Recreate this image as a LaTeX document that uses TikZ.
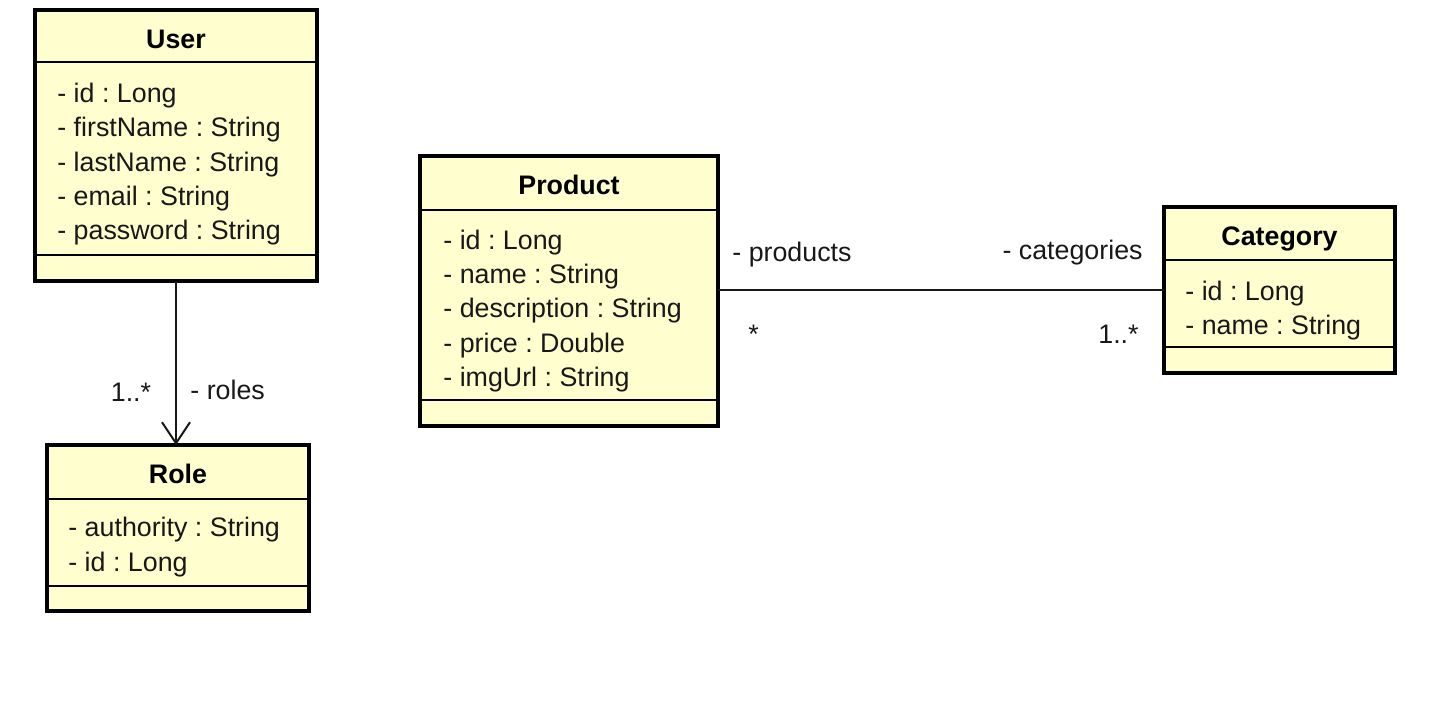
\documentclass[tikz,border=0pt]{standalone}
\usepackage{fontspec}
\setmainfont{Liberation Sans}
\usetikzlibrary{arrows.meta}
\definecolor{classfill}{HTML}{FEFECE}
\definecolor{ink}{HTML}{181818}
\frenchspacing
\tikzset{
  classbox/.style 2 args={draw=black, fill=classfill, line width=2pt, outer sep=0pt,
    inner sep=0pt, minimum width=#1*0.5pt, minimum height=#2*0.5pt},
  sepline/.style={draw=black, line width=0.85pt},
  classname/.style={anchor=base, inner sep=0pt, font=\fontsize{13.4}{16}\selectfont\bfseries, text=black},
  attr/.style={anchor=base west, inner sep=0pt, font=\fontsize{13.4}{16}\selectfont, text=ink},
  lbl/.style={inner sep=0pt, font=\fontsize{13.4}{16}\selectfont, text=ink},
  assoc/.style={draw=ink, line width=1pt},
  navarrow/.style={assoc, -{Straight Barb[length=10.5pt, width=14pt, line width=1pt]}}
}
\begin{document}
\begin{tikzpicture}[x=0.5pt, y=-0.5pt]
\useasboundingbox (0,0) rectangle (1440,702);

% ---- User ----
\node[classbox={282}{271}] (user) at (176,145.5) {};
\draw[sepline] (user.west |- 0,62) -- (user.east |- 0,62);
\draw[sepline] (user.west |- 0,255) -- (user.east |- 0,255);
\node[classname] (userT) at (176,48.5) {User};
\node[attr] (u1) at (57,102) {- id : Long};
\node[attr] (u2) at (57,136.5) {- firstName : String};
\node[attr] (u3) at (57,171) {- lastName : String};
\node[attr] (u4) at (57,205.3) {- email : String};
\node[attr] (u5) at (57,239.6) {- password : String};

% ---- Role ----
\node[classbox={262}{166}] (role) at (178,528) {};
\draw[sepline] (role.west |- 0,499) -- (role.east |- 0,499);
\draw[sepline] (role.west |- 0,586) -- (role.east |- 0,586);
\node[classname] (roleT) at (178,483) {Role};
\node[attr] (r1) at (68,536.7) {- authority : String};
\node[attr] (r2) at (68,571.2) {- id : Long};

% ---- Product ----
\node[classbox={298}{270}] (product) at (569,291) {};
\draw[sepline] (product.west |- 0,210) -- (product.east |- 0,210);
\draw[sepline] (product.west |- 0,400) -- (product.east |- 0,400);
\node[classname] (productT) at (569,194) {Product};
\node[attr] (p1) at (443,249) {- id : Long};
\node[attr] (p2) at (443,283.4) {- name : String};
\node[attr] (p3) at (443,317.8) {- description : String};
\node[attr] (p4) at (443,352.2) {- price : Double};
\node[attr] (p5) at (443,386.6) {- imgUrl : String};

% ---- Category ----
\node[classbox={231}{166}] (category) at (1279.5,290) {};
\draw[sepline] (category.west |- 0,260) -- (category.east |- 0,260);
\draw[sepline] (category.west |- 0,347) -- (category.east |- 0,347);
\node[classname] (categoryT) at (1279.5,245) {Category};
\node[attr] (c1) at (1185,300) {- id : Long};
\node[attr] (c2) at (1185,334.5) {- name : String};

% ---- User -> Role (navigable, roles 1..*) ----
\draw[navarrow] (user.south) -- (user.south |- role.north);
\node[lbl, anchor=base east] (mRoles) at (151.5,401) {1..*};
\node[lbl, anchor=base west] (nRoles) at (190,399) {- roles};

% ---- Product -- Category ----
\draw[assoc] (product.east |- 0,289.5) -- (category.west |- 0,289.5);
\node[lbl, anchor=base west] (nProducts) at (732,261.5) {- products};
\node[lbl, anchor=base east] (nCategories) at (1143,259.5) {- categories};
\node[lbl, anchor=base west] (mProducts) at (748,343) {*};
\node[lbl, anchor=base east] (mCategories) at (1139,343.5) {1..*};
\end{tikzpicture}
\end{document}
